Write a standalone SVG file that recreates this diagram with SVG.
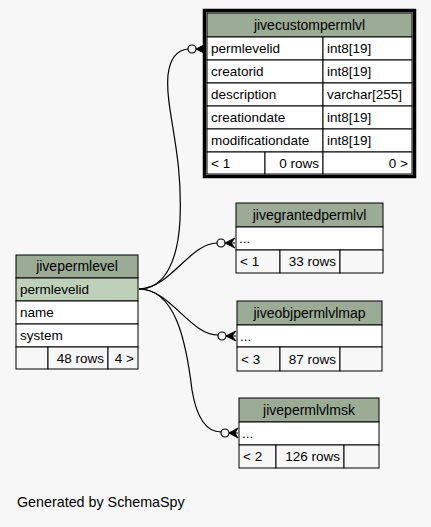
<svg xmlns="http://www.w3.org/2000/svg" width="431" height="527" viewBox="0 0 431 527">
<style>
text{font-family:"Liberation Sans",Arial,sans-serif;font-size:13.5px;fill:#000}
.h{fill:#9bab96;stroke:#000;stroke-width:1}
.c{fill:#fff;stroke:#000;stroke-width:1}
.s{fill:#bed1b8;stroke:#000;stroke-width:1}
.f{fill:#f7f7f7;stroke:#000;stroke-width:1}
.m{text-anchor:middle;font-size:14px}
.r{text-anchor:end}
.e{fill:none;stroke:#000;stroke-width:1.2}
.o{fill:#f7f7f7;stroke:#000;stroke-width:1.2}
.cr{fill:#000;stroke:#000;stroke-width:1}
</style>
<rect width="431" height="527" fill="#f7f7f7"/>
<g id="edges">
<path class="e" d="M139,289 C165,289 178,260 180,220 C183,150 165,110 168,75 C170,58 178,50 188,49"/>
<path class="e" d="M139,289 C170,289 190,243 217,243"/>
<path class="e" d="M139,289 C170,289 190,335 218,335"/>
<path class="e" d="M139,289 C175,289 186,340 192,390 C197,420 208,432 221,432"/>
<circle class="o" cx="192" cy="49" r="4"/>
<path class="cr" d="M206,44 L196,49 L206,54 L202,49 Z M196,49 L206,49"/>
<circle class="o" cx="221" cy="243" r="4"/>
<path class="cr" d="M235,238 L225,243 L235,248 L231,243 Z M225,243 L235,243"/>
<circle class="o" cx="222" cy="336" r="4"/>
<path class="cr" d="M236,331 L226,336 L236,341 L232,336 Z M226,336 L236,336"/>
<circle class="o" cx="225" cy="433" r="4"/>
<path class="cr" d="M238,428 L229,433 L238,438 L235,433 Z M229,433 L238,433"/>
</g>
<g id="jivecustompermlvl">
<rect x="204.5" y="10.5" width="210" height="166" fill="none" stroke="#000" stroke-width="3.5"/>
<rect class="h" x="207" y="13" width="205" height="24"/>
<text class="m" x="309.5" y="30">jivecustompermlvl</text>
<rect class="c" x="207" y="37" width="116" height="23"/><rect class="c" x="323" y="37" width="89" height="23"/>
<rect class="c" x="207" y="60" width="116" height="23"/><rect class="c" x="323" y="60" width="89" height="23"/>
<rect class="c" x="207" y="83" width="116" height="23"/><rect class="c" x="323" y="83" width="89" height="23"/>
<rect class="c" x="207" y="106" width="116" height="23"/><rect class="c" x="323" y="106" width="89" height="23"/>
<rect class="c" x="207" y="129" width="116" height="23"/><rect class="c" x="323" y="129" width="89" height="23"/>
<rect class="c" x="207" y="152" width="58" height="22"/><rect class="c" x="265" y="152" width="58" height="22"/><rect class="c" x="323" y="152" width="89" height="22"/>
<text x="211" y="53">permlevelid</text><text x="327" y="53">int8[19]</text>
<text x="211" y="76">creatorid</text><text x="327" y="76">int8[19]</text>
<text x="211" y="99">description</text><text x="327" y="99">varchar[255]</text>
<text x="211" y="122">creationdate</text><text x="327" y="122">int8[19]</text>
<text x="211" y="145">modificationdate</text><text x="327" y="145">int8[19]</text>
<text x="211" y="168">&lt; 1</text><text class="r" x="319" y="168">0 rows</text><text class="r" x="408" y="168">0 &gt;</text>
</g>
<g id="jivepermlevel">
<rect class="h" x="16" y="255" width="122" height="23"/>
<text class="m" x="77" y="271">jivepermlevel</text>
<rect class="s" x="16" y="278" width="122" height="23"/>
<rect class="c" x="16" y="301" width="122" height="23"/>
<rect class="c" x="16" y="324" width="122" height="23"/>
<rect class="f" x="16" y="347" width="32" height="22"/><rect class="f" x="48" y="347" width="60" height="22"/><rect class="f" x="108" y="347" width="30" height="22"/>
<text x="20" y="294">permlevelid</text>
<text x="20" y="317">name</text>
<text x="20" y="340">system</text>
<text class="r" x="104" y="363">48 rows</text><text class="r" x="134" y="363">4 &gt;</text>
</g>
<g id="jivegrantedpermlvl">
<rect class="h" x="236" y="203" width="147" height="24"/>
<text class="m" x="309.5" y="220">jivegrantedpermlvl</text>
<rect class="c" x="236" y="227" width="147" height="23"/>
<rect class="f" x="236" y="250" width="44" height="23"/><rect class="f" x="280" y="250" width="60" height="23"/><rect class="f" x="340" y="250" width="43" height="23"/>
<text x="239" y="243">...</text>
<text x="240" y="266">&lt; 1</text><text class="r" x="336" y="266">33 rows</text>
</g>
<g id="jiveobjpermlvlmap">
<rect class="h" x="237" y="301" width="145" height="24"/>
<text class="m" x="309.5" y="318">jiveobjpermlvlmap</text>
<rect class="c" x="237" y="325" width="145" height="22"/>
<rect class="f" x="237" y="347" width="43" height="24"/><rect class="f" x="280" y="347" width="60" height="24"/><rect class="f" x="340" y="347" width="42" height="24"/>
<text x="240" y="341">...</text>
<text x="241" y="364">&lt; 3</text><text class="r" x="336" y="364">87 rows</text>
</g>
<g id="jivepermlvlmsk">
<rect class="h" x="239" y="398" width="140" height="24"/>
<text class="m" x="309" y="415">jivepermlvlmsk</text>
<rect class="c" x="239" y="422" width="140" height="23"/>
<rect class="f" x="239" y="445" width="37" height="23"/><rect class="f" x="276" y="445" width="68" height="23"/><rect class="f" x="344" y="445" width="35" height="23"/>
<text x="242" y="438">...</text>
<text x="243" y="461">&lt; 2</text><text class="r" x="340" y="461">126 rows</text>
</g>
<text x="17" y="507" style="font-size:14.3px">Generated by SchemaSpy</text>
</svg>
